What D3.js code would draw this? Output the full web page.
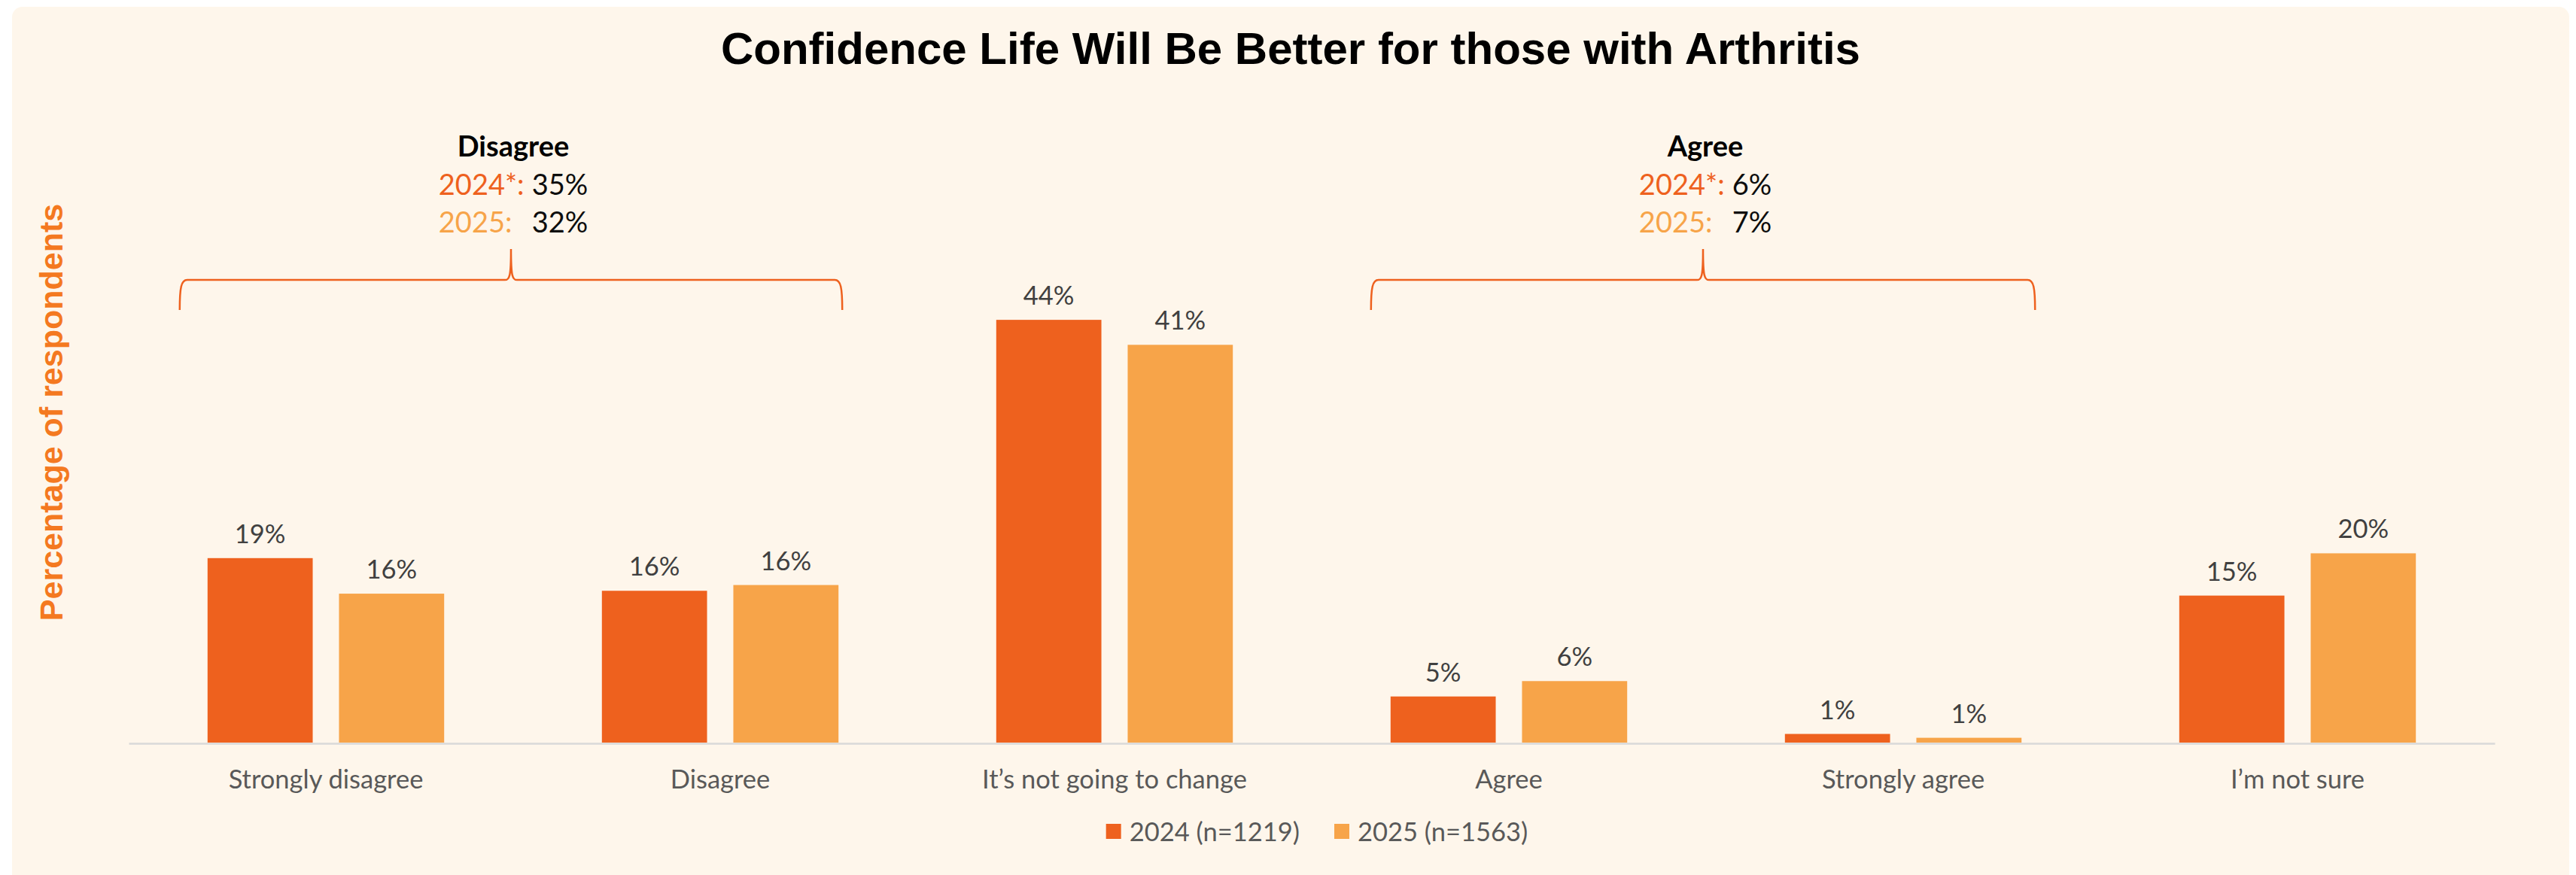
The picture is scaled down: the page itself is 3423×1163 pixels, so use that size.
<!DOCTYPE html>
<html>
<head>
<meta charset="utf-8">
<script src="https://cdn.jsdelivr.net/npm/d3@7"></script>
<style>
  html, body { margin: 0; padding: 0; background: #ffffff; }
  svg { display: block; }
</style>
</head>
<body>
<svg id="chart" width="3423" height="1163"></svg>
<script>
// ---------------- DATA ----------------
const categories = ["Strongly disagree", "Disagree", "It’s not going to change", "Agree", "Strongly agree", "I’m not sure"];
const seriesNames = ["2024 (n=1219)", "2025 (n=1563)"];
const values2024 = [19.2, 15.8, 44.0, 4.8, 0.9, 15.3];
const values2025 = [15.5, 16.4, 41.4, 6.4, 0.5, 19.7];

const bracketTitles = ["Disagree", "Agree"];
const bracketCategories = [["Strongly disagree", "Disagree"], ["Agree", "Strongly agree"]];
const bracketYearLabels = ["2024*:", "2025:"];
const bracket2024 = [35, 6];
const bracket2025 = [32, 7];

const chartTitle = "Confidence Life Will Be Better for those with Arthritis";
const yAxisTitle = "Percentage of respondents";

// ---------------- STYLE ----------------
const colors = ["#EE611E", "#F7A449"];
const bg = "#FEF6EB";
const bodyFont = "Lato, 'Open Sans', sans-serif";
const titleFont = "'Liberation Sans', Arial, sans-serif";
const bodySize = 34.5;
const annSize = 38;

const svg = d3.select("#chart");

// panel
svg.append("rect")
  .attr("x", 16).attr("y", 9)
  .attr("width", 3398).attr("height", 1170)
  .attr("rx", 14).attr("ry", 14)
  .attr("fill", bg);

// title
svg.append("text")
  .attr("x", 1715).attr("y", 85)
  .attr("text-anchor", "middle")
  .attr("font-family", titleFont)
  .attr("font-weight", "bold")
  .attr("font-size", 60)
  .attr("fill", "#000")
  .text(chartTitle);

// y axis title
svg.append("text")
  .attr("transform", "translate(83,548) rotate(-90)")
  .attr("text-anchor", "middle")
  .attr("font-family", titleFont)
  .attr("font-weight", "bold")
  .attr("font-size", 43)
  .attr("fill", "#F47920")
  .text(yAxisTitle);

// scales
const x = d3.scaleBand().domain(categories).range([171, 3315]).paddingInner(0.4).paddingOuter(0.2);
const xs = d3.scaleBand().domain([0, 1]).range([0, x.bandwidth()]).paddingInner(0.2).paddingOuter(0);
const y = d3.scaleLinear().domain([0, 50]).range([987, 987 - 50 * 12.77]);

const data = categories.map((c, i) => ({ cat: c, vals: [values2024[i], values2025[i]] }));

// bars
const groups = svg.append("g").selectAll("g")
  .data(data).join("g")
  .attr("transform", d => `translate(${x(d.cat)},0)`);

groups.selectAll("rect")
  .data(d => d.vals.map((v, k) => ({ v, k })))
  .join("rect")
  .attr("x", d => xs(d.k))
  .attr("width", xs.bandwidth())
  .attr("y", d => y(d.v))
  .attr("height", d => y(0) - y(d.v))
  .attr("fill", d => colors[d.k]);

groups.selectAll("text.lbl")
  .data(d => d.vals.map((v, k) => ({ v, k })))
  .join("text")
  .attr("class", "lbl")
  .attr("x", d => xs(d.k) + xs.bandwidth() / 2)
  .attr("y", d => y(d.v) - 20)
  .attr("text-anchor", "middle")
  .attr("font-family", bodyFont)
  .attr("font-size", bodySize)
  .attr("fill", "#404040")
  .text(d => Math.round(d.v) + "%");

// x axis
const axis = svg.append("g")
  .attr("transform", "translate(0,988)")
  .call(d3.axisBottom(x).tickSize(0).tickSizeOuter(0).tickPadding(36));
axis.select(".domain").attr("stroke", "#D9D9D9").attr("stroke-width", 2.5);
axis.selectAll(".tick text")
  .attr("font-family", bodyFont)
  .attr("font-size", bodySize)
  .attr("fill", "#595959");

// legend
const legend = svg.append("g");
const legendItems = legend.selectAll("g").data(seriesNames).join("g");
legendItems.append("rect")
  .attr("width", 20).attr("height", 20)
  .attr("y", 1095)
  .attr("fill", (d, i) => colors[i]);
legendItems.append("text")
  .attr("y", 1118)
  .attr("font-family", bodyFont)
  .attr("font-size", bodySize)
  .attr("fill", "#595959")
  .text(d => d);
{
  const widths = legendItems.nodes().map(n => d3.select(n).select("text").node().getComputedTextLength());
  const itemW = widths.map(w => 20 + 11 + w);
  const gap = 46;
  const total = d3.sum(itemW) + gap * (itemW.length - 1);
  let cx = 1750 - total / 2;
  legendItems.each(function (d, i) {
    d3.select(this).select("rect").attr("x", cx);
    d3.select(this).select("text").attr("x", cx + 31);
    cx += itemW[i] + gap;
  });
}

// brackets
const bracketOffsets = [[-37, 5], [-26, 18]];
bracketTitles.forEach((t, i) => {
  const [c1, c2] = bracketCategories[i];
  const L = x(c1) + bracketOffsets[i][0];
  const R = x(c2) + x.bandwidth() + bracketOffsets[i][1];
  const tip = (L + R) / 2;
  const yb = 412, yh = 372, yt = 331;
  const p = d3.path();
  p.moveTo(L, yb);
  p.bezierCurveTo(L, yh + 10, L + 2, yh, L + 10, yh);
  p.lineTo(tip - 8, yh);
  p.bezierCurveTo(tip - 2, yh, tip, yh - 4, tip, yt);
  p.bezierCurveTo(tip, yh - 4, tip + 2, yh, tip + 8, yh);
  p.lineTo(R - 10, yh);
  p.bezierCurveTo(R - 2, yh, R, yh + 10, R, yb);
  svg.append("path").attr("d", p.toString())
    .attr("fill", "none").attr("stroke", "#EE611E").attr("stroke-width", 2.5);

  const g = svg.append("g");
  g.append("text")
    .attr("x", tip + 3).attr("y", 208)
    .attr("text-anchor", "middle")
    .attr("font-family", bodyFont)
    .attr("font-weight", "bold")
    .attr("font-size", annSize)
    .attr("fill", "#000")
    .text(t);

  const vals = [bracket2024[i], bracket2025[i]];
  const lineY = [259, 309];
  const yearTexts = bracketYearLabels.map((lab, k) => g.append("text")
    .attr("y", lineY[k])
    .attr("font-family", bodyFont)
    .attr("font-size", annSize)
    .attr("fill", colors[k])
    .text(lab));
  const pctTexts = vals.map((v, k) => g.append("text")
    .attr("y", lineY[k])
    .attr("font-family", bodyFont)
    .attr("font-size", annSize)
    .attr("fill", "#0D0D0D")
    .text(v + "%"));
  const colW = d3.max(yearTexts, t => t.node().getComputedTextLength()) + 10;
  const pctW = d3.max(pctTexts, t => t.node().getComputedTextLength());
  const x0 = tip + 3 - (colW + pctW) / 2;
  yearTexts.forEach(t => t.attr("x", x0));
  pctTexts.forEach(t => t.attr("x", x0 + colW));
});
</script>
</body>
</html>
